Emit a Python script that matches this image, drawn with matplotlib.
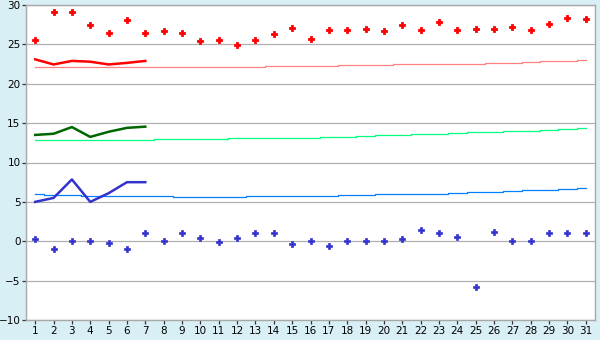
import matplotlib
matplotlib.use("Agg")
import matplotlib.pyplot as plt

days = list(range(1, 32))

tmax = [25.5, 29.1, 29.1, 27.4, 26.4, 28.05, 26.4, 26.65, 26.4, 25.4, 25.5, 24.9, 25.5, 26.3, 27.05,
        25.65, 26.8, 26.8, 26.9, 26.65, 27.4, 26.8, 27.8, 26.8, 27.0, 26.9, 27.15, 26.8, 27.65, 28.3, 28.2]
tmin = [0.25, -1.0, 0.0, 0.0, -0.25, -1.0, 1.0, 0.0, 1.0, 0.4, -0.15, 0.4, 1.0, 1.0, -0.4,
        0.0, -0.65, 0.0, 0.0, 0.0, 0.25, 1.4, 1.0, 0.6, -5.85, 1.15, 0.0, 0.0, 1.0, 1.0, 1.0]

fc_days = [1, 2, 3, 4, 5, 6, 7]
fc_max = [23.1, 22.45, 22.9, 22.8, 22.45, 22.65, 22.9]
fc_mean = [13.5, 13.65, 14.5, 13.25, 13.9, 14.4, 14.55]
fc_min = [5.0, 5.5, 7.85, 5.0, 6.1, 7.5, 7.5]

norm_max = [22.1] * 13 + [22.2] * 4 + [22.35] * 3 + [22.45] * 5 + [22.6] * 2 + [22.7] + [22.85] * 2 + [23.0]
norm_mean = [12.8] * 7 + [12.95] * 4 + [13.1] * 5 + [13.2] * 2 + [13.35] + [13.45] * 2 + [13.6] * 2 + \
            [13.7] + [13.85] * 2 + [13.95] * 2 + [14.1] + [14.2] + [14.35]
norm_min = [5.95] + [5.85] * 2 + [5.7] * 5 + [5.6] * 4 + [5.7] * 5 + [5.85] * 2 + [5.95] * 4 + \
           [6.1] + [6.2] * 2 + [6.35] + [6.45] * 2 + [6.6] + [6.7]

yticks = [-10, -5, 0, 5, 10, 15, 20, 25, 30]

bg = "#d9eff6"
fig = plt.figure(figsize=(6, 3.4), dpi=100, facecolor=bg)
ax = fig.add_axes([26 / 600, 1 - 320 / 340, 569 / 600, 315 / 340])
ax.set_facecolor("white")

ax.plot(days, norm_max, color="#ff8080", lw=0.9, drawstyle="steps-mid", zorder=2)
ax.plot(days, norm_mean, color="#00ff80", lw=0.9, drawstyle="steps-mid", zorder=2)
ax.plot(days, norm_min, color="#0080ff", lw=0.9, drawstyle="steps-mid", zorder=2)

ax.plot(fc_days, fc_max, color="#ff0000", lw=1.8, zorder=3)
ax.plot(fc_days, fc_mean, color="#006600", lw=1.8, zorder=3)
ax.plot(fc_days, fc_min, color="#3333cc", lw=1.8, zorder=3)

ax.plot(days, tmax, ls="none", marker="P", ms=5.0, color="#ff0000", mec="#ff0000", mew=0.6, zorder=4)
ax.plot(days, tmin, ls="none", marker="P", ms=4.2, color="#3333cc", mec="#3333cc", mew=0.5, zorder=4)

ax.set_xlim(0.5, 31.5)
ax.set_ylim(-10, 30)
ax.set_xticks(days)
ax.set_xticklabels([str(d) for d in days])
ax.set_yticks(yticks)
ax.set_yticklabels([str(v).replace("-", "\u2212") for v in yticks])
ax.grid(axis="y", color="#b0b0b0", lw=0.9)
ax.set_axisbelow(True)
for s in ax.spines.values():
    s.set_color("#a8a8a8")
    s.set_linewidth(1.0)
ax.tick_params(axis="both", which="both", direction="out", length=3, width=0.9,
               color="#333333", labelsize=7.5, labelcolor="black", pad=1)

fig.savefig("out.png", dpi=100, facecolor=bg)
